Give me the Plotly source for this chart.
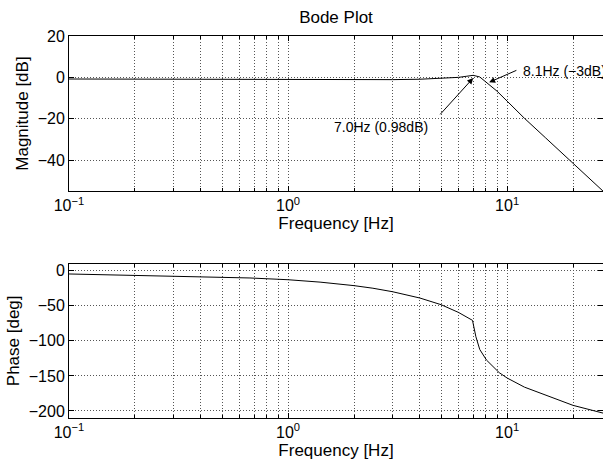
import numpy as np
import plotly.graph_objects as go

# ---- data ----
freq_mag = [0.1, 0.2, 0.5, 1, 2, 3, 4, 5, 6, 6.5, 7.0, 7.5, 8.1, 9, 10, 11.3, 12, 15, 20, 27.4]
mag_db = [-0.8, -0.9, -1.0, -1.1, -1.1, -1.1, -0.9, -0.6, 0.0, 0.5, 0.98, 0.2, -2.8,
          -6.7, -11.5, -17.3, -19.8, -29.3, -41.5, -55.0]

freq_ph = [0.1, 0.2, 0.4, 0.67, 1, 1.4, 2, 2.44, 3, 4, 5, 6, 6.95, 7.2, 7.5, 8.05, 9.2,
           10, 12, 15, 20, 27.4]
phase_deg = [-4.7, -7.0, -8.5, -10.4, -12.9, -16.3, -21.3, -25.0, -30.0, -39.0, -48.5,
             -59.5, -70.8, -94.0, -112.3, -127.4, -145.3, -153.0, -166.0, -177.0, -192.0, -203.0]

peak_f, peak_db = 7.0, 0.98
cut_f, cut_db = 8.1, -3.0
peak_label = "7.0Hz (0.98dB)"
cut_label = "8.1Hz (\u22123dB)"

x_range_hz = [0.1, 27.4]
mag_ticks = [-40, -20, 0, 20]
mag_range = [-55, 20]
ph_ticks = [-200, -150, -100, -50, 0]
ph_range = [-210, 10]

decades = [0.1, 1, 10]
decade_text = ["10<sup>\u22121</sup>", "10<sup>0</sup>", "10<sup>1</sup>"]
minor_vals = [d * m for d in decades for m in range(2, 10) if d * m <= x_range_hz[1]]

FONT = "Liberation Sans, Arial, Helvetica, sans-serif"
GRID = "#555555"
GDASH = "1px,2px"

fig = go.Figure()
fig.add_trace(go.Scatter(x=freq_mag, y=mag_db, mode="lines",
                         line=dict(color="black", width=1), xaxis="x", yaxis="y",
                         showlegend=False, hoverinfo="skip"))
fig.add_trace(go.Scatter(x=freq_ph, y=phase_deg, mode="lines",
                         line=dict(color="black", width=1), xaxis="x2", yaxis="y2",
                         showlegend=False, hoverinfo="skip"))

xaxis_common = dict(
    type="log", range=[np.log10(x_range_hz[0]), np.log10(x_range_hz[1])],
    tickmode="array", tickvals=decades, ticktext=decade_text,
    ticks="inside", ticklen=5, tickcolor="black", tickwidth=1,
    minor=dict(tickmode="array", tickvals=minor_vals, ticks="inside", ticklen=3,
               tickcolor="black", tickwidth=1, showgrid=True, gridcolor=GRID,
               griddash=GDASH, gridwidth=1),
    showline=True, linecolor="black", linewidth=1, mirror="ticks",
    showgrid=True, gridcolor=GRID, griddash=GDASH, gridwidth=1,
    tickfont=dict(size=16, color="black", family=FONT),
    title=dict(text="Frequency [Hz]", font=dict(size=17, color="black", family=FONT), standoff=2),
    zeroline=False,
)
yaxis_common = dict(
    ticks="inside", ticklen=5, tickcolor="black", tickwidth=1,
    showline=True, linecolor="black", linewidth=1, mirror="ticks",
    showgrid=True, gridcolor=GRID, griddash=GDASH, gridwidth=1,
    tickfont=dict(size=16, color="black", family=FONT),
    zeroline=False,
)

fig.update_layout(
    width=603, height=463,
    margin=dict(l=69, r=0, t=36, b=45, autoexpand=False),
    paper_bgcolor="white", plot_bgcolor="white",
    font=dict(family=FONT, color="black"),
    title=dict(text="Bode Plot", xref="paper", x=0.5, xanchor="center",
               y=0.9633, yanchor="middle",
               font=dict(size=17, color="black", family=FONT)),
    xaxis=dict(**xaxis_common, anchor="y"),
    yaxis=dict(**yaxis_common, domain=[0.594, 1.0], range=mag_range,
               tickmode="array", tickvals=mag_ticks, anchor="x",
               title=dict(text="Magnitude [dB]", font=dict(size=17, color="black", family=FONT), standoff=4)),
    xaxis2=dict(**xaxis_common, anchor="y2"),
    yaxis2=dict(**yaxis_common, domain=[0.0, 0.404], range=ph_range,
                tickmode="array", tickvals=ph_ticks, anchor="x2",
                title=dict(text="Phase [deg]", font=dict(size=17, color="black", family=FONT), standoff=4)),
)

# annotations (arrow + text) in data coordinates
ann_font = dict(size=14, color="black", family=FONT)
fig.add_annotation(xref="x", yref="y", axref="x", ayref="y",
                   x=np.log10(peak_f), y=peak_db - 1.3,
                   ax=np.log10(4.88), ay=-18.6,
                   text="", showarrow=True, arrowhead=2, arrowsize=1.2, arrowwidth=1,
                   arrowcolor="black", standoff=0)
fig.add_annotation(xref="x", yref="y", x=np.log10(4.43), y=-24.0,
                   text=peak_label, showarrow=False, xanchor="right", yanchor="middle",
                   font=ann_font)
fig.add_annotation(xref="x", yref="y", axref="x", ayref="y",
                   x=np.log10(8.28), y=cut_db + 0.6,
                   ax=np.log10(11.2), ay=3.7,
                   text="", showarrow=True, arrowhead=2, arrowsize=1.2, arrowwidth=1,
                   arrowcolor="black", standoff=0)
fig.add_annotation(xref="x", yref="y", x=np.log10(11.6), y=2.9,
                   text=cut_label, showarrow=False, xanchor="left", yanchor="middle",
                   font=ann_font)

fig.write_html("out.html",
               config={"displayModeBar": False, "staticPlot": True},
               post_script="document.body.style.margin='0';document.body.style.overflow='hidden';")
